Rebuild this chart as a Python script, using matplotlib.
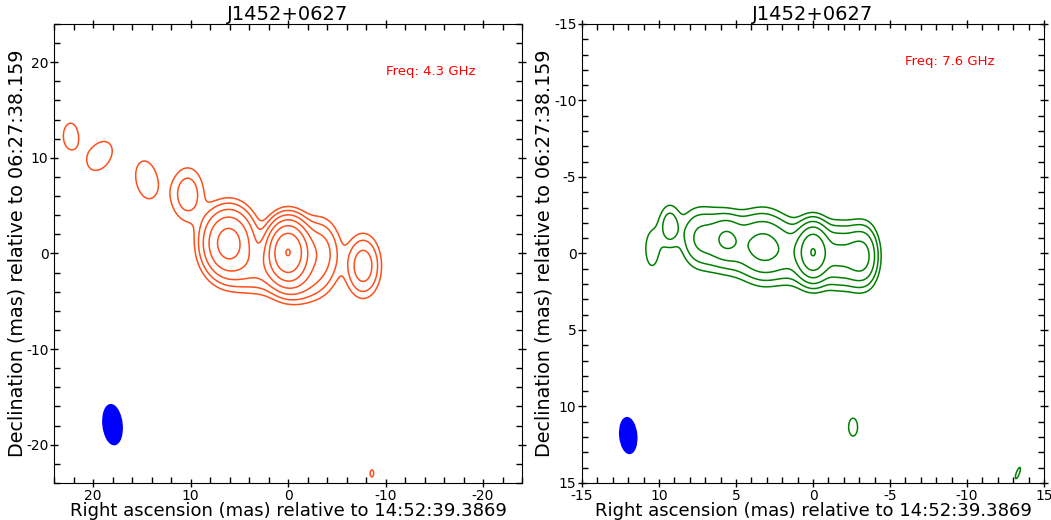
import numpy as np
import matplotlib
matplotlib.use("Agg")
import matplotlib.pyplot as plt
from matplotlib.patches import Ellipse
from matplotlib.ticker import MultipleLocator, FixedLocator, FixedFormatter

plt.rcParams["axes.unicode_minus"] = False

# source / axis text
title = "J1452+0627"
xlabel = "Right ascension (mas) relative to 14:52:39.3869"
ylabel = "Declination (mas) relative to 06:27:38.159"

# 4.3 GHz map: gaussian components
# ra, dec, peak, sigma_a, sigma_b, pa(deg)
c_ra_4 = [0.0, 6.1, -7.7, 10.3, 14.5, 19.3, 22.3, 3.0, -3.2, -1.0, -8.6]
c_dec_4 = [0.15, 1.1, -1.3, 6.2, 7.7, 10.2, 12.3, -1.6, 0.0, -2.8, -23.0]
c_peak_4 = [64, 22, 6, 3.0, 1.5, 1.5, 1.4, 4, 6, 4, 1.3]
c_sa_4 = [1.1, 1.4, 1.0, 1.1, 1.2, 1.2, 0.9, 2.0, 1.2, 1.6, 0.25]
c_sb_4 = [1.65, 1.9, 1.8, 1.85, 2.2, 1.8, 1.6, 1.5, 2.0, 1.4, 0.5]
c_pa_4 = [0, 0, 0, 0, -10, 30, 0, 0, 0, 0, 0]
levels_4 = [1, 2, 4, 8, 16, 32, 64]
beam_4 = (18.0, -17.9, 1.95, 4.2, -6)   # ra, dec, width, height, angle

# 7.6 GHz map (declination axis runs downward)
# ridge of the jet body: beam-sized clean components
r_ra_7 = [8.1, 7.5, 6.9, 6.3, 5.7, 5.1, 4.5, 3.9, 3.3, 2.7, 2.1, 1.5, 0.9,
          0.3, -0.3, -0.9, -1.5, -2.1, -2.7, -3.2, -3.55]
r_dec_7 = [-1.1, -1.0, -0.95, -0.85, -0.75, -0.65, -0.55, -0.45, -0.35, -0.3,
           -0.2, -0.1, 0.0, 0.05, 0.1, 0.1, 0.15, 0.15, 0.15, 0.15, 0.15]
r_amp_7 = [1.3, 2.6, 2.6, 2.6, 2.6, 2.6, 2.6, 2.6, 2.6, 2.6, 2.6, 2.6, 2.6,
           2.6, 2.6, 2.6, 2.6, 2.6, 2.6, 2.6, 2.6]
# knots and isolated features
c_ra_7 = [0.0, 3.2, 5.6, -1.6, -2.6, -3.3, 9.3, 10.45, -2.6, -13.3]
c_dec_7 = [-0.1, -0.5, -1.0, 0.1, 0.2, 0.2, -1.8, -0.3, 11.35, 14.35]
c_peak_7 = [27.5, 5, 4.0, 3.5, 3.5, 3.5, 3.0, 1.5, 1.3, 1.2]
c_sa_7 = [0.55, 0.85, 0.55, 0.5, 0.5, 0.5, 0.45, 0.45, 0.4, 0.17]
c_sb_7 = [0.95, 1.25, 0.8, 1.0, 1.0, 1.0, 0.9, 1.2, 0.8, 0.65]
c_pa_7 = [0, 0, 0, 0, 0, 0, 0, 0, 0, -20]
levels_7 = [1, 2, 4, 8, 16, 32]
beam_7 = (12.0, 11.9, 1.1, 2.35, 5)
ridge_sa, ridge_sb = 0.5, 1.15


def model(xx, yy, ra, dec, peak, sa, sb, pa):
    img = np.zeros_like(xx)
    for x0, y0, p, a, b, t in zip(ra, dec, peak, sa, sb, pa):
        t = np.radians(t)
        dx = xx - x0
        dy = yy - y0
        u = dx * np.cos(t) + dy * np.sin(t)
        v = -dx * np.sin(t) + dy * np.cos(t)
        img += p * np.exp(-u**2 / (2 * a**2) - v**2 / (2 * b**2))
    return img


def style(ax, minor, ylab_x):
    ax.xaxis.set_minor_locator(MultipleLocator(minor))
    ax.yaxis.set_minor_locator(MultipleLocator(minor))
    ax.tick_params(which="major", direction="inout", length=6, width=1,
                   top=True, right=True, labelsize=10, pad=1)
    ax.tick_params(which="minor", direction="in", length=4, width=1,
                   top=True, right=True)
    ax.set_title(title, fontsize=14, pad=3)
    ax.set_xlabel(xlabel, fontsize=13, va="center")
    ax.set_ylabel(ylabel, fontsize=13.8, va="center")
    ax.xaxis.set_label_coords(0.5, -0.060)
    ax.yaxis.set_label_coords(ylab_x, 0.5)


fig = plt.figure(figsize=(10.51, 5.2), dpi=100)
ax1 = fig.add_axes([0.0514, 0.0712, 0.4453, 0.8827])
ax2 = fig.add_axes([0.5538, 0.0712, 0.4396, 0.8827])

# left panel
g = np.linspace(-30, 30, 1201)
xx, yy = np.meshgrid(g, g)
img4 = model(xx, yy, c_ra_4, c_dec_4, c_peak_4, c_sa_4, c_sb_4, c_pa_4)
ax1.contour(xx, yy, img4, levels=levels_4, colors="#ff4f1a", linewidths=1.1)
ax1.add_patch(Ellipse(beam_4[:2], beam_4[2], beam_4[3], angle=beam_4[4],
                      color="blue"))
ax1.set_xlim(24, -24)
ax1.set_ylim(-24, 24)
ax1.xaxis.set_major_locator(MultipleLocator(10))
ax1.yaxis.set_major_locator(MultipleLocator(10))
style(ax1, 2, -0.079)
ax1.text(0.709, 0.889, "Freq: 4.3 GHz", color="red", fontsize=9.5,
         transform=ax1.transAxes)

# right panel
g = np.linspace(-20, 20, 1001)
xx, yy = np.meshgrid(g, g)
n = len(r_ra_7)
img7 = model(xx, yy, r_ra_7, r_dec_7, r_amp_7, [ridge_sa] * n,
             [ridge_sb] * n, [0] * n)
img7 += model(xx, yy, c_ra_7, c_dec_7, c_peak_7, c_sa_7, c_sb_7, c_pa_7)
ax2.contour(xx, yy, img7, levels=levels_7, colors="green", linewidths=1.1)
ax2.add_patch(Ellipse(beam_7[:2], beam_7[2], beam_7[3], angle=beam_7[4],
                      color="blue"))
ax2.set_xlim(15, -15)
ax2.set_ylim(15, -15)
xt = [15, 10, 5, 0, -5, -10, -15]
ax2.xaxis.set_major_locator(FixedLocator(xt))
ax2.xaxis.set_major_formatter(FixedFormatter(["-15", "10", "5", "0", "-5", "-10", "15"]))
ax2.yaxis.set_major_locator(MultipleLocator(5))
style(ax2, 1, -0.082)
ax2.text(0.699, 0.91, "Freq: 7.6 GHz", color="red", fontsize=9.5,
         transform=ax2.transAxes)

fig.savefig("out.png", dpi=100)
